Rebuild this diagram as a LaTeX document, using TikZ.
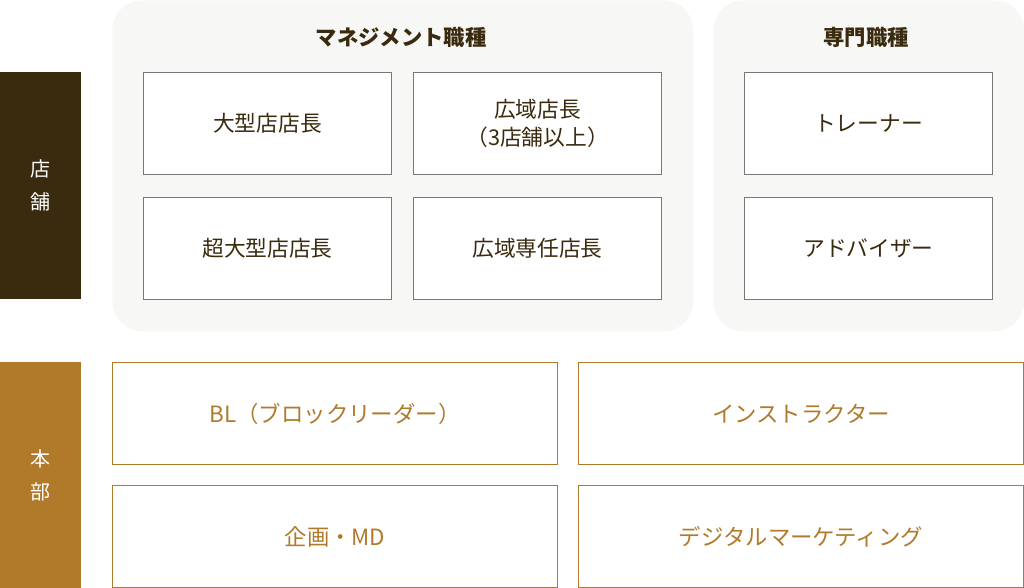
\documentclass[tikz,border=0pt]{standalone}
\usepackage{fontspec}
\setmainfont{Noto Sans CJK JP}
\usetikzlibrary{positioning}
\definecolor{ShopBrown}{RGB}{58, 42, 14}
\definecolor{HqGold}{RGB}{176, 122, 42}
\definecolor{PanelGray}{RGB}{247, 247, 245}
\definecolor{LineGray}{RGB}{120, 120, 120}
\begin{document}
\begin{tikzpicture}[
        x=0.75pt, y=-0.75pt,
        panel/.style={rectangle, rounded corners=22.5pt, fill=PanelGray, anchor=north west, inner sep=0pt},
        title/.style={font=\fontsize{16pt}{19pt}\selectfont\bfseries, text=ShopBrown},
        job/.style={rectangle, draw=LineGray, fill=white, line width=0.75pt, minimum width=186pt, minimum height=76.5pt, anchor=north west, inner sep=0pt, align=center, font=\fontsize{16.3pt}{21pt}\selectfont, text=ShopBrown},
        hq/.style={rectangle, draw=HqGold, fill=white, line width=0.75pt, minimum width=333.75pt, minimum height=76.5pt, anchor=north west, inner sep=0pt, font=\fontsize{16.8pt}{21pt}\selectfont, text=HqGold},
        bar/.style={rectangle, minimum width=60.75pt, minimum height=170pt, anchor=north west, inner sep=0pt, align=center, text=white, font=\fontsize{15pt}{25pt}\selectfont}
    ]
        \useasboundingbox (0,0) rectangle (1024,588);

        % Store side
        \node[bar, fill=ShopBrown] (shop) at (0,72) {店\\舗};
        \node[panel, minimum width=435.75pt, minimum height=248.25pt] (mgmt) at (112,0) {};
        \node[panel, minimum width=233.25pt, minimum height=248.25pt] (spec) at (713,0) {};
        \node[title] (mgmtT) at (401,37) {マネジメント職種};
        \node[title] (specT) at (866,37) {専門職種};

        \node[job] (large) at (143,72) {大型店店長};
        \node[job] (area) at (413,72) {広域店長\\（3店舗以上）};
        \node[job] (xlarge) at (143,197) {超大型店店長};
        \node[job] (areaS) at (413,197) {広域専任店長};
        \node[job] (trainer) at (744,72) {トレーナー};
        \node[job] (advisor) at (744,197) {アドバイザー};

        % Head office
        \node[bar, fill=HqGold, minimum height=169.5pt] (hq) at (0,362) {本\\部};
        \node[hq] (bl) at (112,362) {BL（ブロックリーダー）};
        \node[hq] (instr) at (578,362) {インストラクター};
        \node[hq] (md) at (112,485) {企画・MD};
        \node[hq] (digital) at (578,485) {デジタルマーケティング};
\end{tikzpicture}
\end{document}
